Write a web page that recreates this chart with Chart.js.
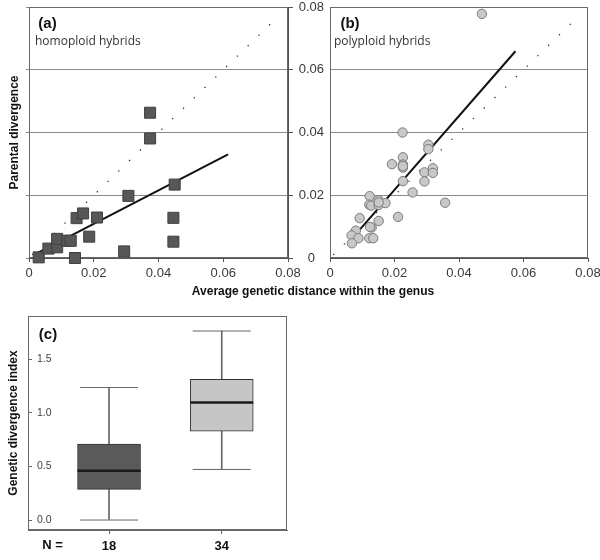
<!DOCTYPE html>
<html><head><meta charset="utf-8">
<script src="https://cdn.jsdelivr.net/npm/chart.js@4/dist/chart.umd.min.js"></script>
<style>
html,body{margin:0;padding:0;background:#fff;width:600px;height:560px;overflow:hidden;position:relative;}
canvas{position:absolute;}
#cA{left:0;top:0;}
#cB{left:290px;top:0;}
#cC{left:0;top:300px;}
#xtitle{position:absolute;left:113px;width:400px;top:284px;text-align:center;font:bold 12px "Liberation Sans",Arial,sans-serif;color:#111;white-space:nowrap;line-height:14px;}
</style></head>
<body>
<canvas id="cA" width="320" height="300"></canvas>
<canvas id="cB" width="310" height="300"></canvas>
<canvas id="cC" width="300" height="260"></canvas>
<div id="xtitle">Average genetic distance within the genus</div>
<script>
// ---- data (a) homoploid hybrids ----
const homoX = [0.003,0.006,0.0087,0.0087,0.0118,0.0129,0.0142,0.0147,0.0167,0.0186,0.021,0.0294,0.0307,0.0374,0.0374,0.045,0.0446,0.0446];
const homoY = [0.0002,0.003,0.0034,0.0061,0.0055,0.0055,0.0,0.0127,0.0142,0.0068,0.0129,0.0021,0.0198,0.0463,0.0381,0.0234,0.0128,0.0052];
const regAX = [0.0019,0.0615];
const regAY = [0.0012,0.033];
// ---- data (b) polyploid hybrids ----
const polyX = [0.0471,0.0225,0.0305,0.0305,0.0226,0.0192,0.0226,0.0226,0.0293,0.0319,0.0319,0.0293,0.0226,0.0256,0.0357,0.0123,0.0122,0.0128,0.0151,0.0151,0.0172,0.0211,0.0092,0.0151,0.0129,0.008,0.0067,0.0088,0.0122,0.0134,0.0068,0.0151,0.0124,0.0226];
const polyY = [0.0778,0.040,0.0361,0.0347,0.0321,0.0299,0.0298,0.0288,0.0273,0.0286,0.0271,0.0244,0.0245,0.0209,0.0176,0.0197,0.017,0.0167,0.0184,0.0169,0.0175,0.0131,0.0127,0.0118,0.0097,0.0087,0.0072,0.0063,0.0063,0.0063,0.0047,0.0177,0.0099,0.0293];
const regBX = [0.0091,0.0575];
const regBY = [0.0089,0.0659];
// 1:1 reference line
const oneX = [0.001,0.077];
const oneY = [0.001,0.077];
const axisTicks = [0,0.02,0.04,0.06,0.08];
// ---- data (c) box plot ----
const groupPos = [1,2];
const nLabels = ['18','34'];
const whiskLow = [0.0,0.472];
const q1 = [0.286,0.829];
const median = [0.459,1.097];
const q3 = [0.708,1.314];
const whiskHigh = [1.237,1.764];
const boxFill = ['#5a5a5a','#c6c6c6'];

Chart.defaults.font.family = '"Liberation Sans", Arial, sans-serif';
Chart.defaults.animation = false;
Chart.defaults.plugins.legend.display = false;
Chart.defaults.plugins.tooltip.enabled = false;

const pts = (xs, ys) => xs.map((x, i) => ({x, y: ys[i]}));
const noPad = s => { s.paddingLeft = 0; s.paddingRight = 0; s.paddingTop = 0; s.paddingBottom = 0; };
const fixW = w => s => { s.width = w; noPad(s); };
const fixH = h => s => { s.height = h; noPad(s); };
const fmt2 = v => v === 0 ? '0' : v.toFixed(2);

function decor(texts) {
  return {
    id: 'decor',
    beforeDatasetsDraw(chart) {
      const a = chart.chartArea, ctx = chart.ctx;
      ctx.save();
      ctx.strokeStyle = '#6a6a6a';
      ctx.lineWidth = 1;
      ctx.strokeRect(Math.round(a.left) + 0.5, Math.round(a.top) + 0.5, Math.round(a.right - a.left) - 1, Math.round(a.bottom - a.top) - 1);
      ctx.restore();
    },
    afterDraw(chart) {
      const ctx = chart.ctx;
      ctx.save();
      texts.forEach(t => {
        ctx.font = t.font;
        ctx.fillStyle = t.color || '#111';
        ctx.textAlign = t.align || 'left';
        ctx.textBaseline = 'middle';
        ctx.fillText(t.text, t.x, t.y);
      });
      ctx.restore();
    }
  };
}

const tickFont = {size: 13};
const tickColor = '#3a3a3a';
const setTicks = s => { s.ticks = axisTicks.map(v => ({value: v})); };

// ---- panel (a) ----
new Chart(document.getElementById('cA'), {
  type: 'scatter',
  data: { datasets: [
    { data: pts(homoX, homoY), pointStyle: 'rect', pointRadius: 7.8, backgroundColor: '#575757', borderColor: '#404040', borderWidth: 1, clip: false, order: 1 },
    { data: pts(regAX, regAY), showLine: true, pointRadius: 0, borderColor: '#111', borderWidth: 2, order: 2 },
    { data: pts(oneX, oneY), showLine: true, pointRadius: 0, borderColor: '#333', borderWidth: 1.3, borderDash: [1.3, 13.7], order: 3 }
  ]},
  options: {
    responsive: false,
    layout: { autoPadding: false, padding: { top: 7, right: 26, left: 0, bottom: 0 } },
    scales: {
      x: { type: 'linear', min: 0, max: 0.08, afterBuildTicks: setTicks,
           ticks: { callback: fmt2, font: tickFont, color: tickColor, padding: 4, maxRotation: 0, autoSkip: false },
           grid: { drawOnChartArea: false, tickLength: 4, color: '#555' }, border: { color: '#555' }, afterFit: fixH(42) },
      y: { type: 'linear', min: 0, max: 0.08, afterBuildTicks: setTicks,
           ticks: { display: false },
           grid: { color: '#8a8a8a', tickLength: 3 }, border: { color: '#555' },
           title: { display: true, text: 'Parental divergence', font: {size: 12, weight: 'bold'}, color: '#111', padding: {top: 7, bottom: 0} },
           afterFit: fixW(29) },
      yr: { type: 'linear', position: 'right', min: 0, max: 0.08, afterBuildTicks: setTicks,
            ticks: { display: false },
            grid: { drawOnChartArea: false, tickLength: 5, color: '#555' }, border: { color: '#555' }, afterFit: fixW(6) }
    }
  },
  plugins: [decor([
    { text: '(a)', x: 47.5, y: 24, font: 'bold 15px "Liberation Sans", Arial, sans-serif', align: 'center' },
    { text: 'homoploid hybrids', x: 35, y: 42, font: '12px "Open Sans", sans-serif', color: '#333' }
  ])]
});

// ---- panel (b) ----
new Chart(document.getElementById('cB'), {
  type: 'scatter',
  data: { datasets: [
    { data: pts(polyX, polyY), pointStyle: 'circle', pointRadius: 4.7, backgroundColor: '#c8c8c8', borderColor: '#7a7a7a', borderWidth: 1, clip: false, order: 1 },
    { data: pts(regBX, regBY), showLine: true, pointRadius: 0, borderColor: '#111', borderWidth: 2, order: 2 },
    { data: pts(oneX, oneY), showLine: true, pointRadius: 0, borderColor: '#333', borderWidth: 1.3, borderDash: [1.3, 13.7], order: 3 }
  ]},
  options: {
    responsive: false,
    layout: { autoPadding: false, padding: { top: 7, right: 12, left: 0, bottom: 0 } },
    scales: {
      x: { type: 'linear', min: 0, max: 0.08, afterBuildTicks: setTicks,
           ticks: { callback: fmt2, font: tickFont, color: tickColor, padding: 4, maxRotation: 0, autoSkip: false },
           grid: { drawOnChartArea: false, tickLength: 4, color: '#555' }, border: { color: '#555' }, afterFit: fixH(42) },
      y: { type: 'linear', min: 0, max: 0.08, afterBuildTicks: setTicks,
           ticks: { callback: fmt2, font: tickFont, color: tickColor, crossAlign: 'center', padding: 6 },
           grid: { color: '#8a8a8a', drawTicks: false }, border: { color: '#555' },
           afterFit: fixW(40) }
    }
  },
  plugins: [decor([
    { text: '(b)', x: 60, y: 24, font: 'bold 15px "Liberation Sans", Arial, sans-serif', align: 'center' },
    { text: 'polyploid hybrids', x: 44, y: 42, font: '12px "Open Sans", sans-serif', color: '#333' }
  ])]
});

// ---- panel (c) ----
new Chart(document.getElementById('cC'), {
  type: 'bar',
  data: { datasets: [
    { type: 'bar', data: groupPos.map((x, i) => ({x, y: [whiskLow[i], whiskHigh[i]]})), maxBarThickness: 1, barPercentage: 1, categoryPercentage: 1, backgroundColor: '#666', grouped: false, order: 3 },
    { type: 'bar', data: groupPos.map((x, i) => ({x, y: [q1[i], q3[i]]})), maxBarThickness: 63, barPercentage: 1, categoryPercentage: 1, backgroundColor: boxFill, borderColor: '#333', borderWidth: 1, borderSkipped: false, grouped: false, order: 2 },
    { type: 'scatter', data: groupPos.flatMap((x, i) => [{x, y: whiskLow[i]}, {x, y: whiskHigh[i]}]), pointStyle: 'line', pointRadius: 29, borderColor: '#666', borderWidth: 1, order: 1 },
    { type: 'scatter', data: groupPos.map((x, i) => ({x, y: median[i]})), pointStyle: 'line', pointRadius: 31.5, borderColor: '#1a1a1a', borderWidth: 2.5, order: 0 }
  ]},
  options: {
    responsive: false,
    layout: { autoPadding: false, padding: { top: 16, right: 13, left: 0, bottom: 0 } },
    scales: {
      x: { type: 'linear', min: 0.281, max: 2.579, offset: false,
           afterBuildTicks: s => { s.ticks = groupPos.map(v => ({value: v})); },
           ticks: { callback: (v, i) => nLabels[i], font: {size: 13, weight: 'bold'}, color: '#111', padding: 5, maxRotation: 0, autoSkip: false },
           grid: { offset: false, drawOnChartArea: false, tickLength: 4, color: '#666' }, border: { color: '#666' }, afterFit: fixH(30) },
      y: { type: 'linear', min: -0.093, max: 1.904,
           ticks: { stepSize: 0.5, includeBounds: false, mirror: true, padding: 9, callback: v => v.toFixed(1), font: {size: 10.5}, color: '#444' },
           grid: { drawOnChartArea: false, tickLength: -4, color: '#666' }, border: { color: '#666' },
           title: { display: true, text: 'Genetic divergence index', font: {size: 12, weight: 'bold'}, color: '#111', padding: {top: 6, bottom: 0} },
           afterFit: fixW(28) }
    }
  },
  plugins: [decor([
    { text: '(c)', x: 48, y: 35, font: 'bold 15px "Liberation Sans", Arial, sans-serif', align: 'center' },
    { text: 'N =', x: 52.5, y: 245.5, font: 'bold 13px "Liberation Sans", Arial, sans-serif', align: 'center' }
  ])]
});
</script>
</body></html>
